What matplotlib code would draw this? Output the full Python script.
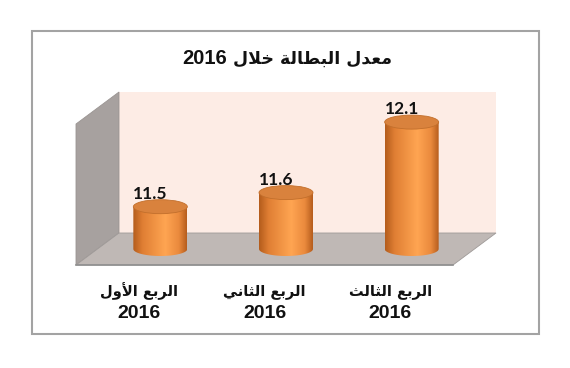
import re
import numpy as np
import matplotlib
matplotlib.use('Agg')
import matplotlib.pyplot as plt
from matplotlib.patches import Polygon, Ellipse, Rectangle, PathPatch
from matplotlib.path import Path
from matplotlib.colors import LinearSegmentedColormap
from matplotlib.offsetbox import TextArea, HPacker, AnnotationBbox

# data
title = 'معدل البطالة خلال 2016'
categories = ['الربع الأول\n2016', 'الربع الثاني\n2016', 'الربع الثالث\n2016']
values = [11.5, 11.6, 12.1]
axis_min, axis_max = 11.2, 12.2

# minimal arabic shaping (matplotlib has no complex text layout)
FORMS = {
    'ا': (0xFE8D, 0xFE8E, None, None),
    'أ': (0xFE83, 0xFE84, None, None),
    'ب': (0xFE8F, 0xFE90, 0xFE91, 0xFE92),
    'ة': (0xFE93, 0xFE94, None, None),
    'ث': (0xFE99, 0xFE9A, 0xFE9B, 0xFE9C),
    'خ': (0xFEA5, 0xFEA6, 0xFEA7, 0xFEA8),
    'د': (0xFEA9, 0xFEAA, None, None),
    'ر': (0xFEAD, 0xFEAE, None, None),
    'ط': (0xFEC1, 0xFEC2, 0xFEC3, 0xFEC4),
    'ع': (0xFEC9, 0xFECA, 0xFECB, 0xFECC),
    'ل': (0xFEDD, 0xFEDE, 0xFEDF, 0xFEE0),
    'م': (0xFEE1, 0xFEE2, 0xFEE3, 0xFEE4),
    'ن': (0xFEE5, 0xFEE6, 0xFEE7, 0xFEE8),
    'و': (0xFEED, 0xFEEE, None, None),
    'ي': (0xFEF1, 0xFEF2, 0xFEF3, 0xFEF4),
    'لا': (0xFEFB, 0xFEFC, None, None),
    'لأ': (0xFEF7, 0xFEF8, None, None),
}


def shape_line(text):
    units = []
    i = 0
    while i < len(text):
        if len(text[i:i+2]) == 2 and text[i:i+2] in FORMS:
            units.append(text[i:i+2]); i += 2
        else:
            units.append(text[i]); i += 1
    out = []
    for k, u in enumerate(units):
        f = FORMS.get(u)
        if f is None:
            out.append(u)
            continue
        prev = units[k-1] if k > 0 else None
        nxt = units[k+1] if k + 1 < len(units) else None
        jp = prev in FORMS and FORMS[prev][2] is not None
        jn = f[2] is not None and nxt in FORMS
        if jp and jn:
            c = f[3]
        elif jp:
            c = f[1]
        elif jn:
            c = f[2]
        else:
            c = f[0]
        out.append(chr(c))
    s = ''.join(out)[::-1]
    return re.sub(r'\d+', lambda m: m.group(0)[::-1], s)


def mixed_box(text, ar_size, num_size):
    # arabic runs in DejaVu, digits in an Arial-like face
    parts = [p for p in re.split(r'(\d+)', shape_line(text)) if p]
    kids = []
    for p in parts:
        num = p.isdigit()
        kids.append(TextArea(p, textprops=dict(
            fontsize=num_size if num else ar_size, fontweight='bold',
            family='Liberation Sans' if num else 'DejaVu Sans',
            color='#111111')))
    return HPacker(children=kids, align='baseline', pad=0, sep=0)


W, H = 570, 368
fig = plt.figure(figsize=(W / 100, H / 100), dpi=100)
fig.patch.set_facecolor('white')

# pixel layout of the 3d box
sx = 377 / 3.0          # px per category
sy = 141.0              # px per value unit
x_front0 = 76 + sx / 2  # px of first category, front plane
y_floor = 265           # px of axis_min, front plane
DX = 43 / sx
DY = 32 / sy

ax = fig.add_axes([0, 0, 1, 1])
ax.axis('off')

n = len(values)
x0, x1 = -0.5, n - 0.5
wall = Polygon([(x0 + DX, axis_min + DY), (x1 + DX, axis_min + DY),
                (x1 + DX, axis_max + DY), (x0 + DX, axis_max + DY)],
               closed=True, fc='#fdece5', ec='none', zorder=1)
side = Polygon([(x0, axis_min), (x0 + DX, axis_min + DY),
                (x0 + DX, axis_max + DY), (x0, axis_max)],
               closed=True, fc='#a7a19f', ec='#9a9492', lw=0.6, zorder=1)
floor = Polygon([(x0, axis_min), (x1, axis_min),
                 (x1 + DX, axis_min + DY), (x0 + DX, axis_min + DY)],
                closed=True, fc='#bfb8b5', ec='#9f9a98', lw=0.6, zorder=2)
for p in (wall, side, floor):
    ax.add_patch(p)
ax.plot([x0, x1], [axis_min, axis_min], color='#8f8f8f', lw=1.2, zorder=2)

cmap = LinearSegmentedColormap.from_list(
    'cyl', [(0, '#b35c1c'), (0.18, '#e07f34'), (0.6, '#ffa552'),
            (0.85, '#ea8a3d'), (1, '#b65d1d')])
grad = np.linspace(0, 1, 256).reshape(1, -1)

hw = 27 / sx
eh = 14 / sy
for i, v in enumerate(values):
    xc = i + DX / 2
    base = axis_min + DY / 2
    top = v + DY / 2
    t = np.linspace(np.pi, 2 * np.pi, 40)
    pts = [(xc - hw, top), (xc - hw, base)]
    pts += list(zip(xc + hw * np.cos(t[1:-1]), base + eh / 2 * np.sin(t[1:-1])))
    pts += [(xc + hw, base), (xc + hw, top), (xc - hw, top)]
    body = PathPatch(Path(pts, closed=True), fc='none', ec='none', zorder=3)
    ax.add_patch(body)
    im = ax.imshow(grad, cmap=cmap, aspect='auto', zorder=3,
                   extent=[xc - hw, xc + hw, base - eh / 2, top],
                   interpolation='bilinear')
    im.set_clip_path(body)
    ax.add_patch(Ellipse((xc, top), 2 * hw, eh, fc='#d9823d',
                         ec='#c26f2c', lw=0.6, zorder=4))
    ax.text(xc - 10 / sx, top + eh / 2 + 1 / sy, f'{v:.1f}', ha='center',
            va='baseline', fontsize=12.5, fontweight='bold',
            family=['Lato', 'DejaVu Sans'], color='#111111', zorder=5)

ax.set_xlim(-x_front0 / sx, (W - x_front0) / sx)
ax.set_ylim(axis_min - (H - y_floor) / sy, axis_min + y_floor / sy)

line_px = [291, 313]
for i, c in enumerate(categories):
    for j, line in enumerate(c.split('\n')):
        box = mixed_box(line, 10.5, 14)
        ab = AnnotationBbox(box, (i, axis_min - (line_px[j] - y_floor) / sy),
                            xycoords='data', frameon=False,
                            box_alignment=(0.5, 0.5), pad=0)
        ax.add_artist(ab)

tb = AnnotationBbox(mixed_box(title, 12.5, 14.5), (287 / W, 1 - 58 / H),
                    xycoords='figure fraction', frameon=False,
                    box_alignment=(0.5, 0.5), pad=0)
ax.add_artist(tb)

fig.add_artist(Rectangle((32 / W, 1 - 334 / H), 507 / W, 303 / H,
                         transform=fig.transFigure, fill=False,
                         ec='#a3a3a3', lw=1.5))

fig.savefig('out.png', dpi=100, facecolor='white')
